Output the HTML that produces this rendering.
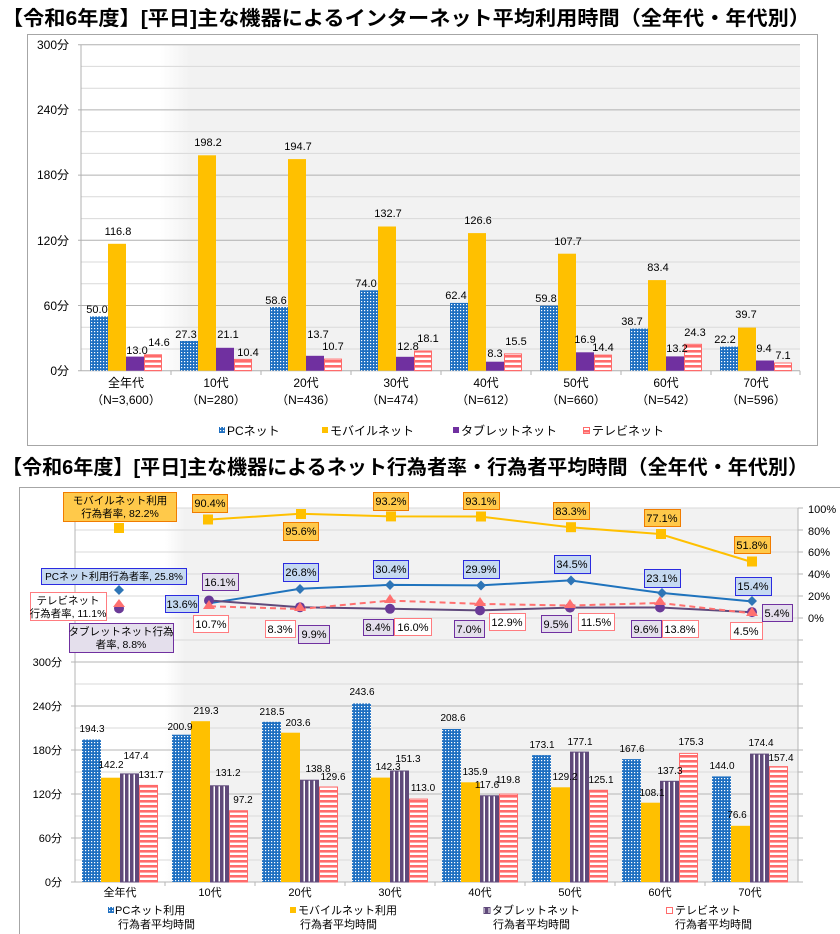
<!DOCTYPE html>
<html><head><meta charset="utf-8"><style>
body{margin:0;background:#fff;}
svg{display:block;font-family:"Liberation Sans","Noto Sans CJK JP",sans-serif;}
</style></head><body>
<svg width="840" height="934" viewBox="0 0 840 934" xmlns="http://www.w3.org/2000/svg">
<defs>
<pattern id="pc" width="3" height="3" patternUnits="userSpaceOnUse"><rect width="3" height="3" fill="#1E6FC1"/><rect x="1" y="1" width="1.2" height="1.2" fill="#fff"/></pattern>
<pattern id="tvp" width="5" height="5" patternUnits="userSpaceOnUse"><rect width="5" height="5" fill="#fff"/><rect width="5" height="2.6" fill="#FF6B6B"/></pattern>
<pattern id="tbp" width="5" height="5" patternUnits="userSpaceOnUse"><rect width="5" height="5" fill="#5F497A"/><rect x="3.5" width="1.5" height="5" fill="#fff"/></pattern>
<linearGradient id="bg1" x1="0" x2="1"><stop offset="0" stop-color="#fff"/><stop offset="1" stop-color="#F2F2F2"/></linearGradient>
</defs>

<!-- TITLE 1 -->
<text x="2" y="25" font-size="20" font-weight="bold" fill="#000" textLength="808" lengthAdjust="spacingAndGlyphs">【令和6年度】[平日]主な機器によるインターネット平均利用時間（全年代・年代別）</text>
<rect x="27.5" y="34.5" width="790" height="411" fill="#fff" stroke="#A6A6A6"/>
<rect x="160" y="44.7" width="30" height="326" fill="url(#bg1)"/>
<rect x="190" y="44.7" width="610" height="326" fill="#F2F2F2"/>
<g stroke="#D9D9D9" stroke-width="1">
<line x1="81" x2="800" y1="66.4" y2="66.4"/><line x1="81" x2="800" y1="88.2" y2="88.2"/>
<line x1="81" x2="800" y1="131.6" y2="131.6"/><line x1="81" x2="800" y1="153.4" y2="153.4"/>
<line x1="81" x2="800" y1="196.8" y2="196.8"/><line x1="81" x2="800" y1="218.6" y2="218.6"/>
<line x1="81" x2="800" y1="262" y2="262"/><line x1="81" x2="800" y1="283.8" y2="283.8"/>
<line x1="81" x2="800" y1="327.2" y2="327.2"/><line x1="81" x2="800" y1="349" y2="349"/>
</g>
<g stroke="#B0B0B0" stroke-width="1">
<line x1="78" x2="800" y1="44.7" y2="44.7"/><line x1="78" x2="800" y1="109.9" y2="109.9"/>
<line x1="78" x2="800" y1="175.1" y2="175.1"/><line x1="78" x2="800" y1="240.3" y2="240.3"/>
<line x1="78" x2="800" y1="305.5" y2="305.5"/><line x1="78" x2="800" y1="370.7" y2="370.7"/>
<line x1="81" x2="81" y1="44.7" y2="370.7"/>
<line x1="171" x2="171" y1="370.7" y2="375"/><line x1="261" x2="261" y1="370.7" y2="375"/><line x1="351" x2="351" y1="370.7" y2="375"/><line x1="441" x2="441" y1="370.7" y2="375"/><line x1="531" x2="531" y1="370.7" y2="375"/><line x1="621" x2="621" y1="370.7" y2="375"/><line x1="711" x2="711" y1="370.7" y2="375"/><line x1="800" x2="800" y1="370.7" y2="375"/>
</g>
<g font-size="12" fill="#000" text-anchor="end">
<text x="69" y="49">300分</text><text x="69" y="114">240分</text><text x="69" y="179">180分</text><text x="69" y="245">120分</text><text x="69" y="310">60分</text><text x="69" y="375">0分</text>
</g>
<g>
<rect x="90" y="316.4" width="18" height="54.3" fill="url(#pc)"/><rect x="108" y="243.8" width="18" height="126.9" fill="#FFC000"/><rect x="126" y="356.6" width="18" height="14.1" fill="#7030A0"/><rect x="144.5" y="354.8" width="17" height="15.9" fill="url(#tvp)" stroke="#FF6B6B"/>
<rect x="180" y="341" width="18" height="29.7" fill="url(#pc)"/><rect x="198" y="155.3" width="18" height="215.4" fill="#FFC000"/><rect x="216" y="347.8" width="18" height="22.9" fill="#7030A0"/><rect x="234.5" y="359.4" width="17" height="11.3" fill="url(#tvp)" stroke="#FF6B6B"/>
<rect x="270" y="307" width="18" height="63.7" fill="url(#pc)"/><rect x="288" y="159.1" width="18" height="211.6" fill="#FFC000"/><rect x="306" y="355.8" width="18" height="14.9" fill="#7030A0"/><rect x="324.5" y="359.1" width="17" height="11.6" fill="url(#tvp)" stroke="#FF6B6B"/>
<rect x="360" y="290.3" width="18" height="80.4" fill="url(#pc)"/><rect x="378" y="226.5" width="18" height="144.2" fill="#FFC000"/><rect x="396" y="356.8" width="18" height="13.9" fill="#7030A0"/><rect x="414.5" y="351" width="17" height="19.7" fill="url(#tvp)" stroke="#FF6B6B"/>
<rect x="450" y="302.9" width="18" height="67.8" fill="url(#pc)"/><rect x="468" y="233.1" width="18" height="137.6" fill="#FFC000"/><rect x="486" y="361.7" width="18" height="9" fill="#7030A0"/><rect x="504.5" y="353.9" width="17" height="16.8" fill="url(#tvp)" stroke="#FF6B6B"/>
<rect x="540" y="305.7" width="18" height="65" fill="url(#pc)"/><rect x="558" y="253.7" width="18" height="117" fill="#FFC000"/><rect x="576" y="352.3" width="18" height="18.4" fill="#7030A0"/><rect x="594.5" y="355.1" width="17" height="15.6" fill="url(#tvp)" stroke="#FF6B6B"/>
<rect x="630" y="328.6" width="18" height="42.1" fill="url(#pc)"/><rect x="648" y="280.1" width="18" height="90.6" fill="#FFC000"/><rect x="666" y="356.4" width="18" height="14.3" fill="#7030A0"/><rect x="684.5" y="344.3" width="17" height="26.4" fill="url(#tvp)" stroke="#FF6B6B"/>
<rect x="720" y="346.6" width="18" height="24.1" fill="url(#pc)"/><rect x="738" y="327.6" width="18" height="43.1" fill="#FFC000"/><rect x="756" y="360.5" width="18" height="10.2" fill="#7030A0"/><rect x="774.5" y="363" width="17" height="7.7" fill="url(#tvp)" stroke="#FF6B6B"/>
</g>
<g font-size="11" fill="#000" text-anchor="middle">
<text x="97" y="313">50.0</text><text x="118" y="235">116.8</text><text x="137" y="354">13.0</text><text x="159" y="346">14.6</text>
<text x="186" y="338">27.3</text><text x="208" y="146">198.2</text><text x="228" y="338">21.1</text><text x="248" y="356">10.4</text>
<text x="276" y="304">58.6</text><text x="298" y="150">194.7</text><text x="318" y="338">13.7</text><text x="333" y="350">10.7</text>
<text x="366" y="287">74.0</text><text x="388" y="217">132.7</text><text x="408" y="350">12.8</text><text x="428" y="342">18.1</text>
<text x="456" y="299">62.4</text><text x="478" y="224">126.6</text><text x="495" y="357">8.3</text><text x="516" y="345">15.5</text>
<text x="546" y="302">59.8</text><text x="568" y="245">107.7</text><text x="585" y="343">16.9</text><text x="603" y="351">14.4</text>
<text x="632" y="325">38.7</text><text x="658" y="271">83.4</text><text x="677" y="352">13.2</text><text x="695" y="336">24.3</text>
<text x="725" y="343">22.2</text><text x="746" y="318">39.7</text><text x="764" y="352">9.4</text><text x="783" y="359">7.1</text>
</g>
<g font-size="12" fill="#000" text-anchor="middle">
<text x="126" y="387">全年代</text><text x="126" y="404">（N=3,600）</text>
<text x="216" y="387">10代</text><text x="216" y="404">（N=280）</text>
<text x="306" y="387">20代</text><text x="306" y="404">（N=436）</text>
<text x="396" y="387">30代</text><text x="396" y="404">（N=474）</text>
<text x="486" y="387">40代</text><text x="486" y="404">（N=612）</text>
<text x="576" y="387">50代</text><text x="576" y="404">（N=660）</text>
<text x="666" y="387">60代</text><text x="666" y="404">（N=542）</text>
<text x="756" y="387">70代</text><text x="756" y="404">（N=596）</text>
</g>
<g font-size="12" fill="#000">
<rect x="219" y="427" width="6" height="6" fill="url(#pc)"/><text x="227" y="435">PCネット</text>
<rect x="322" y="427" width="6" height="6" fill="#FFC000"/><text x="330" y="435">モバイルネット</text>
<rect x="453" y="427" width="6" height="6" fill="#7030A0"/><text x="461" y="435">タブレットネット</text>
<rect x="583.5" y="427.5" width="6" height="6" fill="url(#tvp)" stroke="#FF6B6B"/><text x="592" y="435">テレビネット</text>
</g>

<!-- TITLE 2 -->
<text x="2" y="474" font-size="20" font-weight="bold" fill="#000" textLength="806" lengthAdjust="spacingAndGlyphs">【令和6年度】[平日]主な機器によるネット行為者率・行為者平均時間（全年代・年代別）</text>
<rect x="19.5" y="487.5" width="830" height="460" fill="#fff" stroke="#A6A6A6"/>
<rect x="165" y="508" width="20" height="374" fill="url(#bg1)"/>
<rect x="185" y="508" width="613" height="374" fill="#F2F2F2"/>
<g stroke="#D9D9D9">
<line x1="75" x2="798" y1="508" y2="508"/><line x1="75" x2="798" y1="530" y2="530"/><line x1="75" x2="798" y1="552" y2="552"/><line x1="75" x2="798" y1="574" y2="574"/><line x1="75" x2="798" y1="596" y2="596"/><line x1="75" x2="798" y1="618" y2="618"/><line x1="75" x2="798" y1="640" y2="640"/>
<line x1="75" x2="798" y1="684" y2="684"/><line x1="75" x2="798" y1="728" y2="728"/><line x1="75" x2="798" y1="772" y2="772"/><line x1="75" x2="798" y1="816" y2="816"/><line x1="75" x2="798" y1="860" y2="860"/>
</g>
<g stroke="#B5B5B5">
<line x1="71" x2="798" y1="662" y2="662"/><line x1="71" x2="798" y1="706" y2="706"/><line x1="71" x2="798" y1="750" y2="750"/><line x1="71" x2="798" y1="794" y2="794"/><line x1="71" x2="798" y1="838" y2="838"/><line x1="71" x2="798" y1="882" y2="882"/>
<line x1="75" x2="75" y1="508" y2="882"/><line x1="798" x2="798" y1="508" y2="882"/>
<line x1="798" x2="803" y1="508" y2="508"/><line x1="798" x2="803" y1="530" y2="530"/><line x1="798" x2="803" y1="552" y2="552"/><line x1="798" x2="803" y1="574" y2="574"/><line x1="798" x2="803" y1="596" y2="596"/><line x1="798" x2="803" y1="618" y2="618"/><line x1="798" x2="803" y1="640" y2="640"/><line x1="798" x2="803" y1="662" y2="662"/><line x1="798" x2="803" y1="684" y2="684"/><line x1="798" x2="803" y1="706" y2="706"/><line x1="798" x2="803" y1="728" y2="728"/><line x1="798" x2="803" y1="750" y2="750"/><line x1="798" x2="803" y1="772" y2="772"/><line x1="798" x2="803" y1="794" y2="794"/><line x1="798" x2="803" y1="816" y2="816"/><line x1="798" x2="803" y1="838" y2="838"/><line x1="798" x2="803" y1="860" y2="860"/><line x1="798" x2="803" y1="882" y2="882"/>
<line x1="165" x2="165" y1="882" y2="886"/><line x1="255" x2="255" y1="882" y2="886"/><line x1="345" x2="345" y1="882" y2="886"/><line x1="435" x2="435" y1="882" y2="886"/><line x1="525" x2="525" y1="882" y2="886"/><line x1="615" x2="615" y1="882" y2="886"/><line x1="705" x2="705" y1="882" y2="886"/>
</g>
<g font-size="11" fill="#000" text-anchor="end">
<text x="62" y="666">300分</text><text x="62" y="710">240分</text><text x="62" y="754">180分</text><text x="62" y="798">120分</text><text x="62" y="842">60分</text><text x="62" y="886">0分</text>
</g>
<g font-size="11" fill="#000">
<text x="808" y="513">100%</text><text x="808" y="535">80%</text><text x="808" y="556">60%</text><text x="808" y="578">40%</text><text x="808" y="600">20%</text><text x="808" y="622">0%</text>
</g>
<g>
<rect x="82" y="739.5" width="19" height="142.5" fill="url(#pc)"/><rect x="101" y="777.7" width="19" height="104.3" fill="#FFC000"/><rect x="120.5" y="773.9" width="18" height="108.1" fill="url(#tbp)" stroke="#5F497A"/><rect x="139.5" y="785.4" width="18" height="96.6" fill="url(#tvp)" stroke="#FF6B6B"/>
<rect x="172" y="734.7" width="19" height="147.3" fill="url(#pc)"/><rect x="191" y="721.2" width="19" height="160.8" fill="#FFC000"/><rect x="210.5" y="785.8" width="18" height="96.2" fill="url(#tbp)" stroke="#5F497A"/><rect x="229.5" y="810.7" width="18" height="71.3" fill="url(#tvp)" stroke="#FF6B6B"/>
<rect x="262" y="721.8" width="19" height="160.2" fill="url(#pc)"/><rect x="281" y="732.7" width="19" height="149.3" fill="#FFC000"/><rect x="300.5" y="780.2" width="18" height="101.8" fill="url(#tbp)" stroke="#5F497A"/><rect x="319.5" y="787" width="18" height="95" fill="url(#tvp)" stroke="#FF6B6B"/>
<rect x="352" y="703.4" width="19" height="178.6" fill="url(#pc)"/><rect x="371" y="777.6" width="19" height="104.4" fill="#FFC000"/><rect x="390.5" y="771" width="18" height="111" fill="url(#tbp)" stroke="#5F497A"/><rect x="409.5" y="799.1" width="18" height="82.9" fill="url(#tvp)" stroke="#FF6B6B"/>
<rect x="442" y="729" width="19" height="153" fill="url(#pc)"/><rect x="461" y="782.3" width="19" height="99.7" fill="#FFC000"/><rect x="480.5" y="795.8" width="18" height="86.2" fill="url(#tbp)" stroke="#5F497A"/><rect x="499.5" y="794.1" width="18" height="87.9" fill="url(#tvp)" stroke="#FF6B6B"/>
<rect x="532" y="755.1" width="19" height="126.9" fill="url(#pc)"/><rect x="551" y="787.3" width="19" height="94.7" fill="#FFC000"/><rect x="570.5" y="752.1" width="18" height="129.9" fill="url(#tbp)" stroke="#5F497A"/><rect x="589.5" y="790.3" width="18" height="91.7" fill="url(#tvp)" stroke="#FF6B6B"/>
<rect x="622" y="759.1" width="19" height="122.9" fill="url(#pc)"/><rect x="641" y="802.7" width="19" height="79.3" fill="#FFC000"/><rect x="660.5" y="781.3" width="18" height="100.7" fill="url(#tbp)" stroke="#5F497A"/><rect x="679.5" y="753.4" width="18" height="128.6" fill="url(#tvp)" stroke="#FF6B6B"/>
<rect x="712" y="776.4" width="19" height="105.6" fill="url(#pc)"/><rect x="731" y="825.8" width="19" height="56.2" fill="#FFC000"/><rect x="750.5" y="754.1" width="18" height="127.9" fill="url(#tbp)" stroke="#5F497A"/><rect x="769.5" y="766.6" width="18" height="115.4" fill="url(#tvp)" stroke="#FF6B6B"/>
</g>
<g font-size="10" fill="#000" text-anchor="middle">
<text x="92" y="732">194.3</text><text x="111" y="768">142.2</text><text x="136" y="759">147.4</text><text x="151" y="778">131.7</text>
<text x="180" y="730">200.9</text><text x="206" y="714">219.3</text><text x="228" y="776">131.2</text><text x="243" y="803">97.2</text>
<text x="272" y="715">218.5</text><text x="298" y="726">203.6</text><text x="318" y="772">138.8</text><text x="333" y="780">129.6</text>
<text x="362" y="695">243.6</text><text x="388" y="770">142.3</text><text x="408" y="762">151.3</text><text x="423" y="791">113.0</text>
<text x="453" y="721">208.6</text><text x="475" y="775">135.9</text><text x="487" y="788">117.6</text><text x="508" y="783">119.8</text>
<text x="542" y="748">173.1</text><text x="565" y="780">129.2</text><text x="580" y="745">177.1</text><text x="601" y="783">125.1</text>
<text x="632" y="752">167.6</text><text x="652" y="796">108.1</text><text x="670" y="774">137.3</text><text x="691" y="745">175.3</text>
<text x="722" y="769">144.0</text><text x="737" y="818">76.6</text><text x="761" y="746">174.4</text><text x="781" y="761">157.4</text>
</g>
<g font-size="11" fill="#000" text-anchor="middle">
<text x="120" y="896">全年代</text><text x="210" y="896">10代</text><text x="300" y="896">20代</text><text x="390" y="896">30代</text><text x="480" y="896">40代</text><text x="570" y="896">50代</text><text x="660" y="896">60代</text><text x="750" y="896">70代</text>
</g>
<g font-size="11" fill="#000">
<rect x="108" y="907" width="6" height="6" fill="url(#pc)"/><text x="115" y="914">PCネット利用</text><text x="118" y="928">行為者平均時間</text>
<rect x="290" y="907" width="6" height="6" fill="#FFC000"/><text x="298" y="914">モバイルネット利用</text><text x="300" y="928">行為者平均時間</text>
<rect x="484" y="907.5" width="6" height="6" fill="url(#tbp)" stroke="#5F497A"/><text x="492" y="914">タブレットネット</text><text x="493" y="928">行為者平均時間</text>
<rect x="666.5" y="907.5" width="6" height="6" fill="#fff" stroke="#FF6B6B"/><text x="675" y="914">テレビネット</text><text x="675" y="928">行為者平均時間</text>
</g>

<polyline points="210,519.5 300,513.8 390,516.4 480,516.5 570,527.2 660,534 750,561.5" fill="none" stroke="#FFC000" stroke-width="2"/>
<polyline points="210,603.2 300,588.8 390,584.9 480,585.4 570,580.4 660,592.8 750,601.2" fill="none" stroke="#1F73BD" stroke-width="2"/>
<polyline points="210,600.5 300,607.2 390,608.8 480,610.4 570,607.6 660,607.5 750,612.1" fill="none" stroke="#604A7B" stroke-width="2"/>
<polyline points="210,606.3 300,609 390,600.6 480,603.9 570,605.5 660,603 750,613.1" fill="none" stroke="#FF7070" stroke-width="2" stroke-dasharray="6,4"/>
<g fill="#FFC000">
<rect x="114" y="523" width="10" height="10"/><rect x="203" y="514.5" width="10" height="10"/><rect x="296" y="509" width="10" height="10"/><rect x="386" y="511.4" width="10" height="10"/><rect x="476" y="511.5" width="10" height="10"/><rect x="566" y="522.2" width="10" height="10"/><rect x="656" y="529" width="10" height="10"/><rect x="747" y="556.5" width="10" height="10"/>
</g>
<g fill="#6A3A97">
<circle cx="119" cy="608.4" r="5"/><circle cx="209" cy="600.5" r="5"/><circle cx="300" cy="607.2" r="5"/><circle cx="390" cy="608.8" r="5"/><circle cx="480" cy="610.4" r="5"/><circle cx="570" cy="607.6" r="5"/><circle cx="660" cy="607.5" r="5"/><circle cx="752" cy="612.1" r="5"/>
</g>
<g fill="#FF7070">
<polygon points="119,599 125,607 113,607"/><polygon points="209,600 215,609 203,609"/><polygon points="300,602 306,611 294,611"/><polygon points="390,594 396,603 384,603"/><polygon points="480,597 486,606 474,606"/><polygon points="570,599 576,608 564,608"/><polygon points="660,596 666,605 654,605"/><polygon points="752,607 758,616 746,616"/>
</g>
<g fill="#2E75B6">
<polygon points="119,585 124,590 119,595 114,590"/><polygon points="300,584 305,589 300,594 295,589"/><polygon points="390,580 395,585 390,590 385,585"/><polygon points="481,580.5 486,585.5 481,590.5 476,585.5"/><polygon points="571,575.5 576,580.5 571,585.5 566,580.5"/><polygon points="662,588 667,593 662,598 657,593"/><polygon points="752,596 757,601 752,606 747,601"/>
</g>

<g font-size="11" fill="#000" text-anchor="middle">
<rect x="63.5" y="492.5" width="113" height="29" fill="#FFC94A" stroke="#F07C00"/><text x="120" y="504" font-size="10.5">モバイルネット利用</text><text x="120" y="517" font-size="10.5">行為者率, 82.2%</text>
<rect x="192.5" y="494.5" width="35" height="18" fill="#FFC94A" stroke="#F07C00"/><text x="210" y="507">90.4%</text>
<rect x="283.5" y="522.5" width="35" height="18" fill="#FFC94A" stroke="#F07C00"/><text x="301" y="535">95.6%</text>
<rect x="373.5" y="492.5" width="35" height="18" fill="#FFC94A" stroke="#F07C00"/><text x="391" y="505">93.2%</text>
<rect x="463.5" y="492.5" width="36" height="17" fill="#FFC94A" stroke="#F07C00"/><text x="481" y="505">93.1%</text>
<rect x="553.5" y="502.5" width="36" height="17" fill="#FFC94A" stroke="#F07C00"/><text x="571" y="515">83.3%</text>
<rect x="644.5" y="509.5" width="36" height="17" fill="#FFC94A" stroke="#F07C00"/><text x="662" y="522">77.1%</text>
<rect x="734.5" y="536.5" width="36" height="17" fill="#FFC94A" stroke="#F07C00"/><text x="752" y="549">51.8%</text>

<rect x="41.5" y="568.5" width="145" height="16" fill="#C5D9F1" stroke="#2B2BE0"/><text x="114" y="580" font-size="10">PCネット利用行為者率, 25.8%</text>
<rect x="165.5" y="595.5" width="33" height="17" fill="#C5D9F1" stroke="#2B2BE0"/><text x="182" y="608">13.6%</text>
<rect x="283.5" y="563.5" width="35" height="18" fill="#C5D9F1" stroke="#2B2BE0"/><text x="301" y="576">26.8%</text>
<rect x="373.5" y="560.5" width="35" height="18" fill="#C5D9F1" stroke="#2B2BE0"/><text x="391" y="573">30.4%</text>
<rect x="463.5" y="560.5" width="36" height="18" fill="#C5D9F1" stroke="#2B2BE0"/><text x="481" y="573">29.9%</text>
<rect x="554.5" y="555.5" width="36" height="18" fill="#C5D9F1" stroke="#2B2BE0"/><text x="572" y="568">34.5%</text>
<rect x="644.5" y="569.5" width="36" height="18" fill="#C5D9F1" stroke="#2B2BE0"/><text x="662" y="582">23.1%</text>
<rect x="735.5" y="577.5" width="36" height="18" fill="#C5D9F1" stroke="#2B2BE0"/><text x="753" y="590">15.4%</text>

<rect x="69.5" y="623.5" width="104" height="29" fill="#E4DFEC" stroke="#7030A0"/><text x="121" y="635" font-size="10.5">タブレットネット行為</text><text x="121" y="648" font-size="10.5">者率, 8.8%</text>
<rect x="202.5" y="573.5" width="36" height="17" fill="#E4DFEC" stroke="#7030A0"/><text x="220" y="586">16.1%</text>
<rect x="298.5" y="625.5" width="31" height="18" fill="#E4DFEC" stroke="#7030A0"/><text x="314" y="638">9.9%</text>
<rect x="363.5" y="619.5" width="30" height="16" fill="#E4DFEC" stroke="#7030A0"/><text x="378" y="631">8.4%</text>
<rect x="454.5" y="620.5" width="30" height="17" fill="#E4DFEC" stroke="#7030A0"/><text x="469" y="633">7.0%</text>
<rect x="541.5" y="615.5" width="30" height="17" fill="#E4DFEC" stroke="#7030A0"/><text x="556" y="628">9.5%</text>
<rect x="631.5" y="620.5" width="30" height="17" fill="#E4DFEC" stroke="#7030A0"/><text x="646" y="633">9.6%</text>
<rect x="762.5" y="604.5" width="30" height="17" fill="#E4DFEC" stroke="#7030A0"/><text x="777" y="617">5.4%</text>

<rect x="30.5" y="592.5" width="76" height="28" fill="#fff" stroke="#FF7C80"/><text x="68" y="604" font-size="10.5">テレビネット</text><text x="68" y="617" font-size="10.5">行為者率, 11.1%</text>
<rect x="193.5" y="615.5" width="35" height="17" fill="#fff" stroke="#FF7C80"/><text x="211" y="628">10.7%</text>
<rect x="265.5" y="620.5" width="30" height="17" fill="#fff" stroke="#FF7C80"/><text x="280" y="633">8.3%</text>
<rect x="394.5" y="618.5" width="37" height="17" fill="#fff" stroke="#FF7C80"/><text x="413" y="631">16.0%</text>
<rect x="489.5" y="613.5" width="36" height="17" fill="#fff" stroke="#FF7C80"/><text x="507" y="626">12.9%</text>
<rect x="578.5" y="613.5" width="36" height="17" fill="#fff" stroke="#FF7C80"/><text x="596" y="626">11.5%</text>
<rect x="662.5" y="620.5" width="36" height="17" fill="#fff" stroke="#FF7C80"/><text x="680" y="633">13.8%</text>
<rect x="730.5" y="622.5" width="32" height="17" fill="#fff" stroke="#FF7C80"/><text x="746" y="635">4.5%</text>
</g>
</svg>
</body></html>
